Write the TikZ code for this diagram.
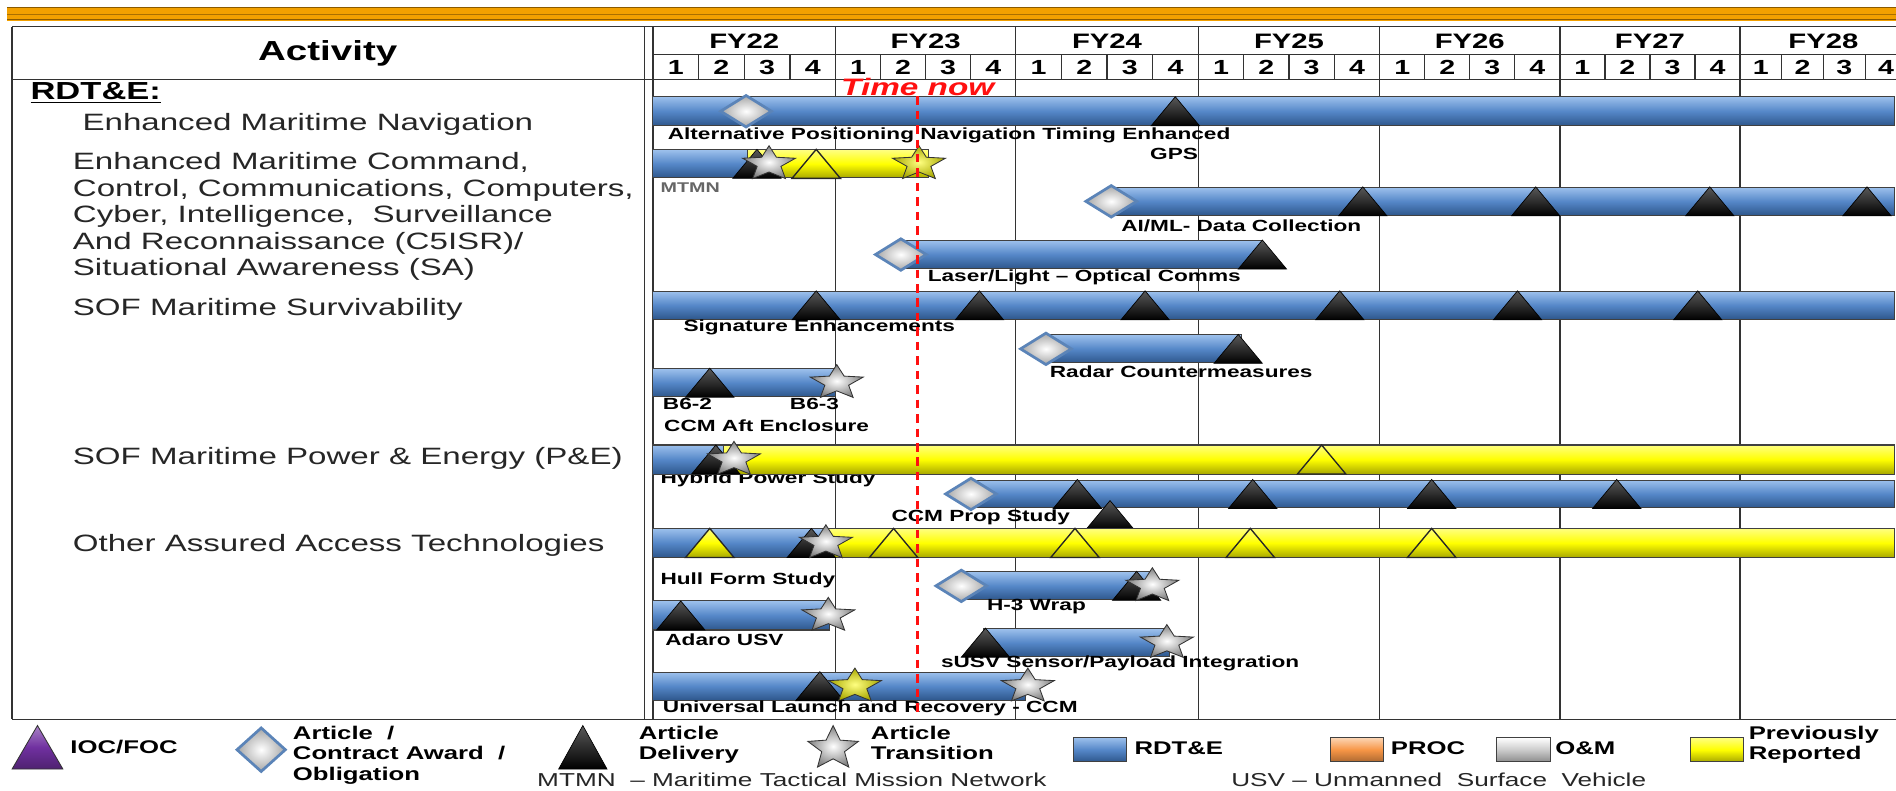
\documentclass[tikz,border=0pt]{standalone}
\usepackage{fontspec}
\setmainfont{Liberation Sans}[FakeStretch=1.4]
\usepackage{tikz}
\usetikzlibrary{positioning}
\definecolor{gold}{HTML}{F2A000}
\definecolor{goldLo}{HTML}{8A5A00}
\definecolor{rdteHi}{HTML}{9CC0EC}
\definecolor{rdte}{HTML}{5587C8}
\definecolor{rdteLo}{HTML}{2E578C}
\definecolor{prevHi}{HTML}{FFFF80}
\definecolor{prev}{HTML}{FFFF00}
\definecolor{prevLo}{HTML}{A8A800}
\definecolor{procHi}{HTML}{FCD5B4}
\definecolor{proc}{HTML}{F79646}
\definecolor{awardB}{HTML}{5B84B8}
\definecolor{ioc}{HTML}{7030A0}
\definecolor{nowred}{HTML}{FF1010}
\tikzset{
  grid/.style={draw=black!80,line width=0.8pt},
  rdte/.style={draw=black!75,line width=0.6pt,top color=rdteHi,bottom color=rdteLo,middle color=rdte},
  prevbar/.style={draw=black!75,line width=0.6pt,top color=prevHi,bottom color=prevLo,middle color=prev},
  procbar/.style={draw=black!75,line width=0.6pt,top color=procHi,bottom color=proc!70!black,middle color=proc},
  ombar/.style={draw=black!75,line width=0.6pt,top color=white,bottom color=black!45,middle color=black!20},
  awardline/.style={draw=awardB,line width=1.6pt,shading=radial,inner color=white,outer color=black!35},
  delivline/.style={draw=black,line width=0.4pt,top color=black!65,bottom color=black},
  prevline/.style={draw=black!85,line width=0.8pt,top color=prevHi,bottom color=prevLo,middle color=prev},
  transline/.style={draw=black!80,line width=0.5pt,shading=radial,inner color=white,outer color=black!50},
  prevstar/.style={draw=black!80,line width=0.5pt,shading=radial,inner color=prevHi,outer color=prevLo},
  award/.pic={\draw[awardline] (-21,0) -- (0,-13) -- (21,0) -- (0,13) -- cycle;},
  deliv/.pic={\draw[delivline] (-20,12) -- (0,-12) -- (20,12) -- cycle;},
  prevdeliv/.pic={\draw[prevline] (-20,12) -- (0,-12) -- (20,12) -- cycle;},
  trans/.pic={\draw[transline,xscale=23,yscale=15] (0,-1) -- (0.2645,-0.364) -- (0.951,-0.309) -- (0.428,0.139) -- (0.588,0.809) -- (0,0.45) -- (-0.588,0.809) -- (-0.428,0.139) -- (-0.951,-0.309) -- (-0.2645,-0.364) -- cycle;},
  prevtrans/.pic={\draw[prevstar,xscale=23,yscale=15] (0,-1) -- (0.2645,-0.364) -- (0.951,-0.309) -- (0.428,0.139) -- (0.588,0.809) -- (0,0.45) -- (-0.588,0.809) -- (-0.428,0.139) -- (-0.951,-0.309) -- (-0.2645,-0.364) -- cycle;},
  act/.style={font=\fontsize{16.2}{19}\selectfont\bfseries,inner sep=0pt},
  yr/.style={font=\fontsize{12.3}{14}\selectfont\bfseries,inner sep=0pt},
  qtr/.style={font=\fontsize{12}{14}\selectfont\bfseries,inner sep=0pt},
  rowlbl/.style={font=\fontsize{13.9}{15.6}\selectfont,text=black!85,anchor=west,inner sep=0pt,align=left},
  barlbl/.style={font=\fontsize{9.5}{11}\selectfont\bfseries,anchor=west,inner sep=0pt},
  keylbl/.style={font=\fontsize{10.8}{12.1}\selectfont\bfseries,anchor=west,inner sep=0pt,align=left},
  notelbl/.style={font=\fontsize{11}{13}\selectfont,text=black!85,anchor=west,inner sep=0pt},
  nowlbl/.style={font=\fontsize{14}{16}\selectfont\bfseries\itshape,text=nowred,inner sep=0pt},
  nowline/.style={draw=nowred,line width=1.8pt,dash pattern=on 5pt off 3.5pt},
}
\begin{document}
\begin{tikzpicture}[x=0.025cm,y=-0.025cm]
  \useasboundingbox (0,0) rectangle (1568,654);
  % gold rule
  \fill[gold] (6,6) rectangle (1568,17);
  \draw[goldLo,line width=0.6pt] (6,6.5) -- (1568,6.5) (6,16.5) -- (1568,16.5);
  \draw[goldLo!70!gold,line width=0.8pt] (6,12) -- (1568,12);
  % table
  \draw[grid] (10,22) -- (1568,22) (10,66) -- (1568,66) (10,595) -- (1568,595)
    (10,22) -- (10,595) (533,22) -- (533,595) (540,45) -- (1568,45);
  \foreach \a/\b/\y in {540/691/22,691/840/23,840/991/24,991/1141/25,1141/1290/26,1290/1439/27,1439/1577/28}{
    \draw[grid] (\a,22) -- (\a,595);
    \foreach \q in {1,2,3} \draw[grid] ({\a+(\b-\a)*\q/4},45) -- ({\a+(\b-\a)*\q/4},66);
    \node[yr] (fy\y) at ({(\a+\b)/2},34) {FY\y};
    \foreach \q in {1,...,4} \node[qtr] at ({\a+(\b-\a)*(\q-0.5)/4},56) {\q};
  }
  \node[act] (activity) at (271,44) {Activity};
  % activities
  \node[rowlbl,font=\fontsize{14.5}{16}\selectfont\bfseries,text=black] (rdte) at (25,77) {\underline{RDT\&E:}};
  \node[rowlbl] (emn) at (68,103) {Enhanced Maritime Navigation};
  \node[rowlbl,anchor=north west] (c5isr) at (60,126) {Enhanced Maritime Command,\\Control, Communications, Computers,\\Cyber, Intelligence,\ \ Surveillance\\And Reconnaissance (C5ISR)/\\Situational Awareness (SA)};
  \node[rowlbl] (surv) at (60,256) {SOF Maritime Survivability};
  \node[rowlbl] (pe) at (60,379) {SOF Maritime Power \& Energy (P\&E)};
  \node[rowlbl] (aat) at (60,451) {Other Assured Access Technologies};
  % Enhanced Maritime Navigation
  \draw[rdte] (540,80) rectangle (1567,104);
  \pic at (617,92) {award};
  \pic at (972,92) {deliv};
  \node[barlbl] (altpnt) at (552,112) {Alternative Positioning Navigation Timing Enhanced};
  \node[barlbl,anchor=center] (gps) at (971,127) {GPS};
  % MTMN
  \draw[prevbar] (612,124) rectangle (768,147);
  \draw[rdte] (540,124) rectangle (618,147);
  \pic at (626,135.5) {deliv};
  \pic at (636,135.5) {trans};
  \pic at (675,135.5) {prevdeliv};
  \pic at (760,135.5) {prevtrans};
  \node[barlbl,font=\fontsize{8.3}{10}\selectfont\bfseries,text=black!60] (mtmn) at (546,155) {MTMN};
  % AI/ML
  \draw[rdte] (921,155) rectangle (1567,178);
  \pic at (919,166.5) {award};
  \foreach \x in {1127,1270,1414,1544} \pic at (\x,166.5) {deliv};
  \node[barlbl] (aiml) at (927,187) {AI/ML- Data Collection};
  % Laser/Light
  \draw[rdte] (745,199) rectangle (1044,222);
  \pic at (745,210.5) {award};
  \pic at (1044,210.5) {deliv};
  \node[barlbl] (laser) at (767,229) {Laser/Light -- Optical Comms};
  % Signature
  \draw[rdte] (540,241) rectangle (1567,264);
  \foreach \x in {675,810,947,1108,1255,1404} \pic at (\x,252.5) {deliv};
  \node[barlbl] (sig) at (565,271) {Signature Enhancements};
  % Radar
  \draw[rdte] (865,277) rectangle (1027,300);
  \pic at (865,288.5) {award};
  \pic at (1024,288.5) {deliv};
  \node[barlbl] (radar) at (868,307) {Radar Countermeasures};
  % CCM aft enclosure
  \draw[rdte] (540,305) rectangle (691,328);
  \pic at (587,316.5) {deliv};
  \pic at (692,316.5) {trans};
  \node[barlbl] (b62) at (548,334) {B6-2};
  \node[barlbl] (b63) at (653,334) {B6-3};
  \node[barlbl] (aft) at (549,352) {CCM Aft Enclosure};
  % Hybrid power
  \node[barlbl] (hybrid) at (546,396) {Hybrid Power Study};
  \draw[prevbar] (595,368) rectangle (1567,392);
  \draw[rdte] (540,368) rectangle (598,392);
  \pic at (592,380) {deliv};
  \pic at (607,380) {trans};
  \pic at (1093,380) {prevdeliv};
  % CCM prop
  \draw[rdte] (803,397) rectangle (1567,420);
  \pic at (803,408.5) {award};
  \foreach \x in {891,1036,1184,1337} \pic at (\x,408.5) {deliv};
  \node[barlbl] (prop) at (737,428) {CCM Prop Study};
  \pic at (918,426) {deliv};
  % Hull form
  \draw[prevbar] (680,437) rectangle (1567,461);
  \draw[rdte] (540,437) rectangle (683,461);
  \pic at (587,449) {prevdeliv};
  \pic at (671,449) {deliv};
  \pic at (683,449) {trans};
  \foreach \x in {739,889,1034,1184} \pic at (\x,449) {prevdeliv};
  \node[barlbl] (hull) at (546,480) {Hull Form Study};
  % H-3 wrap
  \draw[rdte] (795,473) rectangle (951,496);
  \pic at (795,484.5) {award};
  \pic at (940,484.5) {deliv};
  \pic at (953,484.5) {trans};
  \node[barlbl] (h3) at (816,502) {H-3 Wrap};
  % Adaro
  \draw[rdte] (540,497) rectangle (686,521);
  \pic at (563,509) {deliv};
  \pic at (685,509) {trans};
  \node[barlbl] (adaro) at (550,529) {Adaro USV};
  % sUSV
  \draw[rdte] (813,520) rectangle (967,543);
  \pic at (815,531.5) {deliv};
  \pic at (965,531.5) {trans};
  \node[barlbl] (susv) at (778,549) {sUSV Sensor/Payload Integration};
  % launch and recovery
  \draw[rdte] (540,556) rectangle (848,579);
  \pic at (678,567.5) {deliv};
  \pic at (707,567.5) {prevtrans};
  \pic at (850,567.5) {trans};
  \node[barlbl] (ulr) at (548,586) {Universal Launch and Recovery - CCM};
  % time now
  \node[nowlbl] (now) at (759,72) {Time now};
  \coordinate (nowend) at (759,592);
  \draw[nowline] (now.south) -- (nowend);
  % legend
  \draw[draw=black!80,line width=0.5pt,top color=ioc!60!white,bottom color=ioc!70!black,middle color=ioc] (10,636) -- (31,600) -- (52,636) -- cycle;
  \node[keylbl] (kioc) at (58,618) {IOC/FOC};
  \draw[awardline] (196,620) -- (216,602) -- (236,620) -- (216,638) -- cycle;
  \node[keylbl,anchor=north west] (kaward) at (242,600) {Article\ \ /\\Contract Award\ \ /\\Obligation};
  \draw[delivline] (462,636) -- (482,600) -- (502,636) -- cycle;
  \node[keylbl,anchor=north west] (kdeliv) at (528,600) {Article\\Delivery};
  \draw[transline,shift={(689,619)},xscale=22,yscale=19] (0,-1) -- (0.2645,-0.364) -- (0.951,-0.309) -- (0.428,0.139) -- (0.588,0.809) -- (0,0.45) -- (-0.588,0.809) -- (-0.428,0.139) -- (-0.951,-0.309) -- (-0.2645,-0.364) -- cycle;
  \node[keylbl,anchor=north west] (ktrans) at (720,600) {Article\\Transition};
  \draw[rdte] (888,610) rectangle (932,630);
  \node[keylbl] (krdte) at (938,619) {RDT\&E};
  \draw[procbar] (1100,610) rectangle (1144,630);
  \node[keylbl] (kproc) at (1150,619) {PROC};
  \draw[ombar] (1238,610) rectangle (1282,630);
  \node[keylbl] (kom) at (1286,619) {O\&M};
  \draw[prevbar] (1398,610) rectangle (1442,630);
  \node[keylbl,anchor=north west] (kprev) at (1446,600) {Previously\\Reported};
  \node[notelbl] (nmtmn) at (444,645) {MTMN\ \ -- Maritime Tactical Mission Network};
  \node[notelbl] (nusv) at (1018,645) {USV -- Unmanned\ \ Surface\ \ Vehicle};
\end{tikzpicture}
\end{document}
